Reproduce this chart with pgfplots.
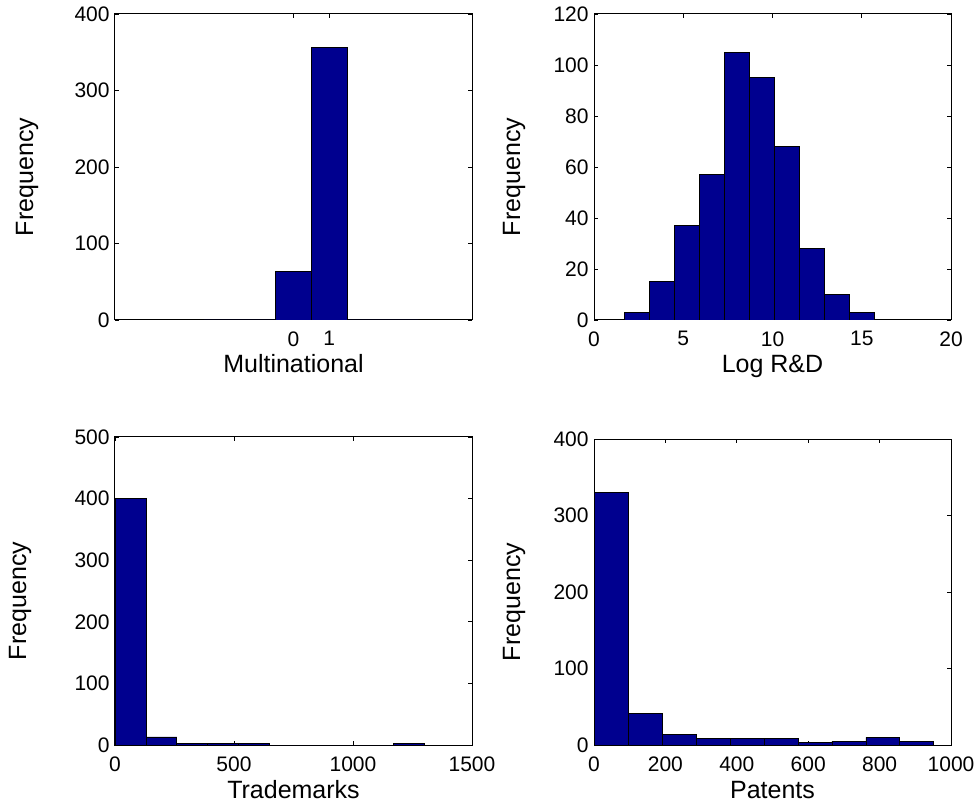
\documentclass[border=0pt]{standalone}
\usepackage{pgfplots}
\pgfplotsset{compat=1.18}
\usepackage{fontspec}
\setmainfont{Liberation Sans}
\definecolor{mblue}{RGB}{0,0,143}

\pgfplotsset{
  histo/.style={
    scale only axis,
    width=178.5pt,
    anchor=south west,
    ymin=0,
    axis line style={line width=0.5pt},
    tick style={black, line width=0.4pt},
    major tick length=1.8pt,
    tick pos=both,
    tick align=inside,
    /pgf/number format/assume math mode=true,
    /pgf/number format/1000 sep={},
    scaled ticks=false,
    tick label style={font=\fontsize{10.5}{12}\selectfont},
    label style={font=\fontsize{12.5}{14}\selectfont},
    xticklabel style={anchor=north, inner sep=0pt, yshift=-5.5pt},
    yticklabel style={anchor=east, inner sep=0pt, xshift=-2.5pt},
    xlabel style={at={(rel axis cs:0.5,0)}, anchor=base, yshift=-26.5pt},
    ylabel={Frequency},
  },
  % shifts are in the rotated frame: yshift moves left, xshift moves down
  ylab/.style={ylabel style={at={(rel axis cs:0,0.5)}, anchor=center, xshift=-5pt, yshift=#1}},
  bars/.style={ybar interval, fill=mblue, draw=black, line width=0.4pt},
}

\begin{document}
\begin{tikzpicture}
\useasboundingbox (0,0) rectangle (489.5pt,404pt);

% top left: multinational dummy
\begin{axis}[histo, at={(57.5pt,244pt)}, height=153pt,
    xmin=-5, xmax=5, ymax=400,
    xtick={0,1}, ytick={0,100,200,300,400},
    xlabel={Multinational}, ylab=44pt]
  \addplot[bars] coordinates {
    (-2.5,0) (-1.5,0) (-0.5,64) (0.5,356) (1.5,0) (2.5,0) (3.5,0)
  };
\end{axis}

% top right: log R&D
\begin{axis}[histo, at={(297pt,244pt)}, height=153pt,
    xmin=0, xmax=20, ymax=120,
    xtick={0,5,10,15,20}, ytick={0,20,40,60,80,100,120},
    xlabel={Log R\&D}, ylab=40pt]
  \addplot[bars] coordinates {
    (1.72,3) (3.12,15) (4.52,37) (5.92,57) (7.32,105) (8.72,95)
    (10.12,68) (11.52,28) (12.92,10) (14.32,3) (15.72,3)
  };
\end{axis}

% bottom left: trademarks
\begin{axis}[histo, at={(57.5pt,31.5pt)}, height=154pt,
    xmin=0, xmax=1500, ymax=500,
    xtick={0,500,1000,1500}, ytick={0,100,200,300,400,500},
    xlabel={Trademarks}, ylab=47.5pt]
  \addplot[bars] coordinates {
    (0,400) (130,13) (260,3) (390,3) (520,3) (650,0) (780,0)
    (910,0) (1040,0) (1170,3) (1300,3)
  };
\end{axis}

% bottom right: patents
\begin{axis}[histo, at={(297pt,31.5pt)}, height=153pt,
    xmin=0, xmax=1000, ymax=400,
    xtick={0,200,400,600,800,1000}, ytick={0,100,200,300,400},
    xlabel={Patents}, ylab=40pt]
  \addplot[bars] coordinates {
    (0,330) (95.2,41) (190.4,14) (285.6,8) (380.8,8) (476,8)
    (571.2,3) (666.4,5) (761.6,10) (856.8,5) (952,5)
  };
\end{axis}
\end{tikzpicture}
\end{document}
